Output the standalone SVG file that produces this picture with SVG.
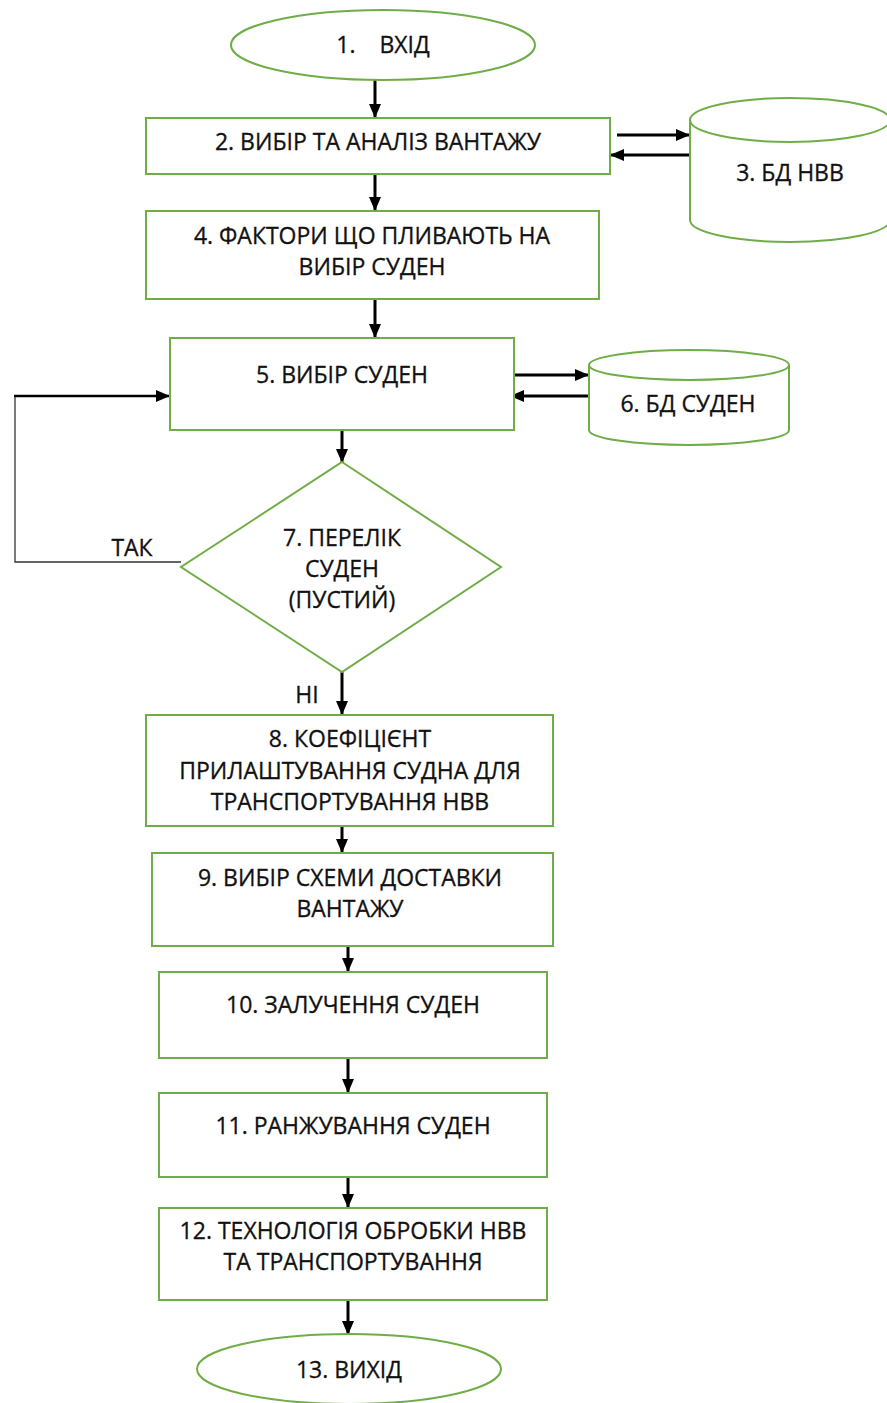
<svg xmlns="http://www.w3.org/2000/svg" width="887" height="1403" viewBox="0 0 887 1403">
  <defs>
    <marker id="arrow" markerUnits="userSpaceOnUse" markerWidth="14" markerHeight="14" viewBox="0 0 14 14" refX="14" refY="7" orient="auto">
      <path d="M0,1 L14,7 L0,13 Z" fill="#000"/>
    </marker>
    <style>
      .shape { fill: #fff; stroke: #70ad47; stroke-width: 2; }
      .lbl { font-family: "Open Sans", "Noto Sans", "DejaVu Sans", sans-serif; font-size: 23px; fill: #111; stroke: #111; stroke-width: 0.3; text-anchor: middle; }
      .flow { stroke: #000; stroke-width: 3; fill: none; marker-end: url(#arrow); }
      .thin { stroke: #333; stroke-width: 1.3; fill: none; }
    </style>
  </defs>
  <rect width="887" height="1403" fill="#fff"/>

  <g id="connectors">
    <line class="flow" x1="375" y1="80" x2="375" y2="118"/>
    <line class="flow" x1="617" y1="135" x2="690" y2="135"/>
    <line class="flow" x1="690" y1="155" x2="610" y2="155"/>
    <line class="flow" x1="375" y1="174" x2="375" y2="211"/>
    <line class="flow" x1="375" y1="299" x2="375" y2="338"/>
    <line class="flow" x1="514" y1="375" x2="589" y2="375"/>
    <line class="flow" x1="589" y1="396" x2="510" y2="396"/>
    <line class="flow" x1="342" y1="430" x2="342" y2="463"/>
    <polyline class="thin" points="181,562 15,562 15,396"/>
    <line class="flow" x1="14" y1="396" x2="170" y2="396" style="stroke-width:2.5"/>
    <line class="flow" x1="342" y1="672" x2="342" y2="715"/>
    <line class="flow" x1="342" y1="819" x2="342" y2="853"/>
    <line class="flow" x1="348" y1="946" x2="348" y2="972"/>
    <line class="flow" x1="348" y1="1058" x2="348" y2="1093"/>
    <line class="flow" x1="348" y1="1177" x2="348" y2="1208"/>
    <line class="flow" x1="348" y1="1300" x2="348" y2="1335"/>
    <text class="lbl" x="132" y="556">ТАК</text>
    <text class="lbl" x="307" y="703">НІ</text>
  </g>

  <g id="node1">
    <ellipse class="shape" cx="383" cy="45" rx="152" ry="35"/>
    <text class="lbl" x="383" y="53" xml:space="preserve">1.    ВХІД</text>
  </g>

  <g id="node2">
    <rect class="shape" x="146" y="118" width="464" height="56"/>
    <text class="lbl" x="378" y="150">2. ВИБІР ТА АНАЛІЗ ВАНТАЖУ</text>
  </g>

  <g id="node3">
    <path class="shape" d="M690,120 L690,220 A100,22 0 0 0 890,220 L890,120"/>
    <ellipse class="shape" cx="790" cy="120" rx="100" ry="22"/>
    <text class="lbl" x="790" y="181">3. БД НВВ</text>
  </g>

  <g id="node4">
    <rect class="shape" x="146" y="211" width="453" height="88"/>
    <text class="lbl" x="372" y="244">4. ФАКТОРИ ЩО ПЛИВАЮТЬ НА</text>
    <text class="lbl" x="372" y="275">ВИБІР СУДЕН</text>
  </g>

  <g id="node5">
    <rect class="shape" x="170" y="338" width="344" height="92"/>
    <text class="lbl" x="342" y="383">5. ВИБІР СУДЕН</text>
  </g>

  <g id="node6">
    <path class="shape" d="M589,365 L589,430 A100,15 0 0 0 789,430 L789,365"/>
    <ellipse class="shape" cx="689" cy="365" rx="100" ry="15"/>
    <text class="lbl" x="688" y="412">6. БД СУДЕН</text>
  </g>

  <g id="node7">
    <polygon class="shape" points="342,462 501,567 342,672 181,567"/>
    <text class="lbl" x="342" y="546">7. ПЕРЕЛІК</text>
    <text class="lbl" x="342" y="577">СУДЕН</text>
    <text class="lbl" x="342" y="608">(ПУСТИЙ)</text>
  </g>

  <g id="node8">
    <rect class="shape" x="146" y="715" width="407" height="111"/>
    <text class="lbl" x="350" y="747">8. КОЕФІЦІЄНТ</text>
    <text class="lbl" x="350" y="779">ПРИЛАШТУВАННЯ СУДНА ДЛЯ</text>
    <text class="lbl" x="350" y="810">ТРАНСПОРТУВАННЯ НВВ</text>
  </g>

  <g id="node9">
    <rect class="shape" x="152" y="853" width="401" height="93"/>
    <text class="lbl" x="350" y="886">9. ВИБІР СХЕМИ ДОСТАВКИ</text>
    <text class="lbl" x="350" y="917">ВАНТАЖУ</text>
  </g>

  <g id="node10">
    <rect class="shape" x="159" y="972" width="388" height="86"/>
    <text class="lbl" x="353" y="1013">10. ЗАЛУЧЕННЯ СУДЕН</text>
  </g>

  <g id="node11">
    <rect class="shape" x="159" y="1093" width="388" height="84"/>
    <text class="lbl" x="353" y="1134">11. РАНЖУВАННЯ СУДЕН</text>
  </g>

  <g id="node12">
    <rect class="shape" x="159" y="1208" width="388" height="92"/>
    <text class="lbl" x="353" y="1239">12. ТЕХНОЛОГІЯ ОБРОБКИ НВВ</text>
    <text class="lbl" x="353" y="1270">ТА ТРАНСПОРТУВАННЯ</text>
  </g>

  <g id="node13">
    <ellipse class="shape" cx="349" cy="1369" rx="152" ry="35"/>
    <text class="lbl" x="349" y="1378">13. ВИХІД</text>
  </g>
</svg>
